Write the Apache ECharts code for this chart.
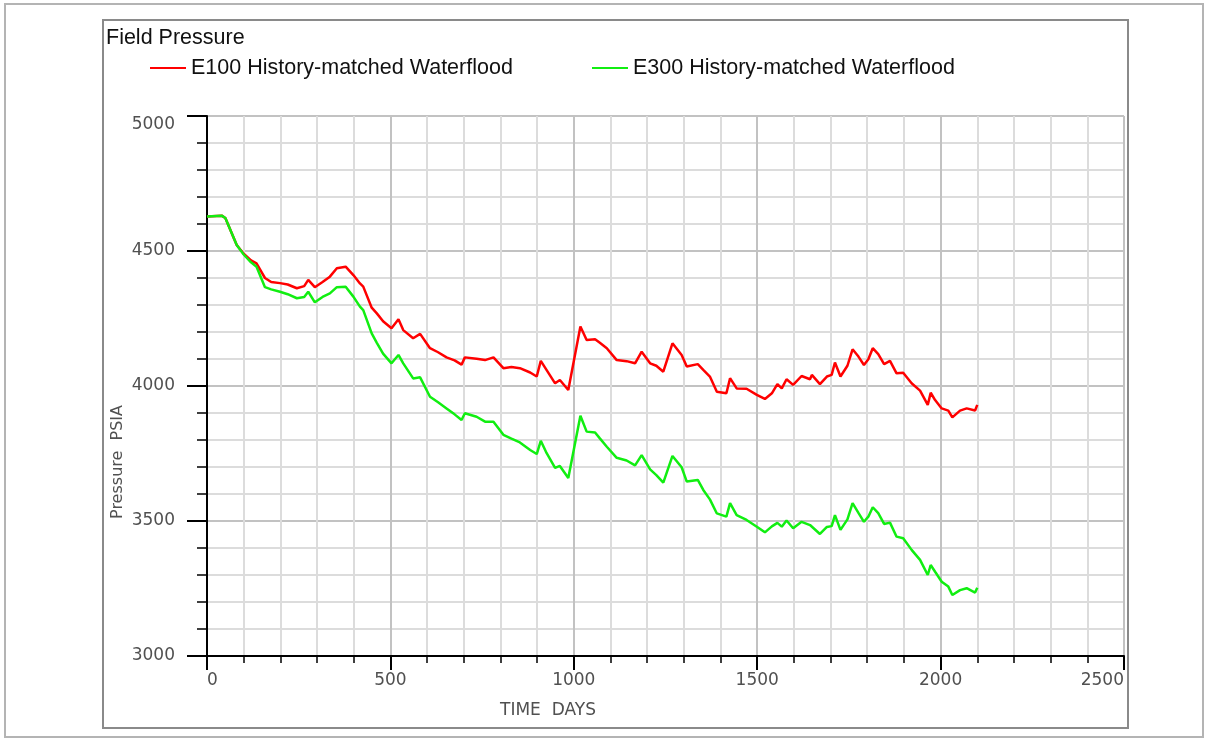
<!DOCTYPE html>
<html>
<head>
<meta charset="utf-8">
<title>Field Pressure</title>
<script src="https://cdn.jsdelivr.net/npm/echarts@6/dist/echarts.min.js"></script>
<style>
  html, body { margin: 0; padding: 0; background: #fff; }
  #chart { width: 1208px; height: 740px; }
</style>
</head>
<body>
<div id="chart"></div>
<script>
// time in days
const days = [
  0, 40, 50, 81, 100, 120, 135, 158, 175, 199, 220, 245, 265, 276, 294, 315, 335, 354, 378, 399,
  417, 426, 449, 463, 480, 503, 522, 535, 562, 581, 608, 630, 653, 675, 694, 703, 735, 758, 781, 808,
  830, 853, 881, 899, 910, 926, 949, 962, 985, 1018, 1035, 1058, 1071, 1090, 1117, 1144, 1167, 1185, 1208, 1225,
  1244, 1269, 1294, 1308, 1338, 1353, 1371, 1390, 1416, 1426, 1444, 1471, 1499, 1521, 1540, 1555, 1567, 1580, 1598, 1621,
  1644, 1649, 1671, 1690, 1703, 1712, 1727, 1746, 1760, 1776, 1791, 1803, 1815, 1830, 1846, 1862, 1880, 1898, 1921, 1944,
  1965, 1973, 1985, 2003, 2021, 2032, 2053, 2071, 2094, 2100
];

// E100 field pressure (psia)
const e100Pressure = [
  4628, 4631, 4622, 4522, 4490, 4465, 4454, 4400, 4385, 4381, 4376, 4362, 4370, 4393, 4366, 4385, 4405, 4436, 4442, 4411,
  4380, 4368, 4290, 4269, 4240, 4214, 4247, 4207, 4177, 4193, 4140, 4125, 4106, 4095, 4079, 4106, 4101, 4096, 4106, 4066,
  4070, 4066, 4050, 4035, 4093, 4059, 4010, 4022, 3985, 4220, 4170, 4173, 4160, 4140, 4096, 4092, 4084, 4127, 4084, 4075,
  4053, 4158, 4115, 4072, 4081, 4060, 4035, 3979, 3973, 4029, 3991, 3990, 3967, 3952, 3973, 4007, 3991, 4025, 4004, 4037,
  4025, 4041, 4007, 4035, 4041, 4087, 4035, 4075, 4136, 4109, 4078, 4099, 4140, 4118, 4081, 4093, 4047, 4049, 4010, 3983,
  3930, 3975, 3948, 3917, 3909, 3884, 3909, 3917, 3909, 3930
];

// E300 field pressure (psia)
const e300Pressure = [
  4628, 4631, 4622, 4522, 4487, 4458, 4442, 4366, 4358, 4349, 4340, 4325, 4330, 4349, 4310, 4330, 4343, 4366, 4368, 4331,
  4294, 4281, 4195, 4160, 4120, 4084, 4115, 4084, 4028, 4032, 3960, 3940, 3917, 3895, 3874, 3899, 3886, 3868, 3868, 3819,
  3805, 3791, 3763, 3748, 3797, 3751, 3697, 3704, 3659, 3890, 3831, 3828, 3806, 3775, 3734, 3724, 3706, 3744, 3691, 3670,
  3642, 3741, 3699, 3646, 3652, 3615, 3580, 3528, 3516, 3566, 3522, 3504, 3479, 3458, 3480, 3493, 3479, 3502, 3473, 3497,
  3485, 3490, 3452, 3478, 3481, 3522, 3467, 3506, 3566, 3530, 3497, 3516, 3551, 3529, 3489, 3494, 3442, 3436, 3393, 3356,
  3300, 3337, 3312, 3275, 3257, 3226, 3244, 3251, 3235, 3253
];

const seriesNames = ["E100 History-matched Waterflood", "E300 History-matched Waterflood"];
const xTicks = { min: 0, max: 2500, step: 500 };
const yTicks = { min: 3000, max: 5000, step: 500 };

const chart = echarts.init(document.getElementById("chart"));

const axisFont = "'DejaVu Sans', sans-serif";
const textFont = "'Liberation Sans', Arial, sans-serif";

const option = {
  animation: false,
  backgroundColor: "#fff",
  graphic: [
    {
      type: "rect",
      z: -10,
      shape: { x: 5, y: 4, width: 1198, height: 733 },
      style: { fill: "none", stroke: "#b4b4b4", lineWidth: 2 }
    },
    {
      type: "rect",
      z: -10,
      shape: { x: 103, y: 20, width: 1025, height: 708 },
      style: { fill: "none", stroke: "#8a8a8a", lineWidth: 2 }
    },
    {
      type: "text",
      left: 106,
      top: 27,
      style: { text: "Field Pressure", font: "21.5px " + textFont, fill: "#111" }
    },
    {
      type: "text",
      x: 548,
      y: 711,
      style: {
        text: "TIME  DAYS",
        font: "17px " + axisFont,
        fill: "#505050",
        align: "center",
        verticalAlign: "middle"
      }
    },
    {
      type: "text",
      x: 118,
      y: 462,
      rotation: Math.PI / 2,
      style: {
        text: "Pressure  PSIA",
        font: "16px " + axisFont,
        fill: "#505050",
        align: "center",
        verticalAlign: "middle"
      }
    }
  ],
  legend: [
    {
      left: 145,
      top: 52,
      icon: "rect",
      itemWidth: 36,
      itemHeight: 2,
      textStyle: { fontSize: 21.5, fontFamily: textFont, color: "#111" },
      data: [seriesNames[0]]
    },
    {
      left: 587,
      top: 52,
      icon: "rect",
      itemWidth: 36,
      itemHeight: 2,
      textStyle: { fontSize: 21.5, fontFamily: textFont, color: "#111" },
      data: [seriesNames[1]]
    }
  ],
  grid: {
    left: 207,
    top: 116,
    width: 917,
    height: 540,
    containLabel: false
  },
  xAxis: {
    type: "value",
    min: xTicks.min,
    max: xTicks.max,
    interval: xTicks.step,
    axisLine: { show: true, onZero: false, lineStyle: { color: "#000", width: 2 } },
    axisTick: { show: true, length: 14, lineStyle: { color: "#000", width: 2 } },
    minorTick: { show: true, splitNumber: 5, length: 7, lineStyle: { color: "#000", width: 1.5 } },
    splitLine: { show: true, lineStyle: { color: "#c2c2c2", width: 2 } },
    minorSplitLine: { show: true, lineStyle: { color: "#dcdcdc", width: 2 } },
    axisLabel: {
      margin: 16,
      color: "#505050",
      fontSize: 17,
      fontFamily: axisFont,
      alignMinLabel: "left",
      alignMaxLabel: "right",
      formatter: (v) => String(v)
    }
  },
  yAxis: {
    type: "value",
    min: yTicks.min,
    max: yTicks.max,
    interval: yTicks.step,
    axisLine: { show: true, onZero: false, lineStyle: { color: "#000", width: 2 } },
    axisTick: { show: true, length: 20, lineStyle: { color: "#000", width: 2 } },
    minorTick: { show: true, splitNumber: 5, length: 10, lineStyle: { color: "#000", width: 1.5 } },
    splitLine: { show: true, lineStyle: { color: "#c2c2c2", width: 2 } },
    minorSplitLine: { show: true, lineStyle: { color: "#dcdcdc", width: 2 } },
    axisLabel: {
      margin: 32,
      color: "#505050",
      fontSize: 17,
      fontFamily: axisFont,
      verticalAlignMaxLabel: "top",
      formatter: (v) => String(v)
    }
  },
  series: [
    {
      name: seriesNames[0],
      type: "line",
      symbol: "none",
      color: "#ff0000",
      lineStyle: { color: "#ff0000", width: 2.5 },
      data: days.map((d, i) => [d, e100Pressure[i]])
    },
    {
      name: seriesNames[1],
      type: "line",
      symbol: "none",
      color: "#11ee11",
      lineStyle: { color: "#11ee11", width: 2.5 },
      data: days.map((d, i) => [d, e300Pressure[i]])
    }
  ]
};

chart.setOption(option);
</script>
</body>
</html>
